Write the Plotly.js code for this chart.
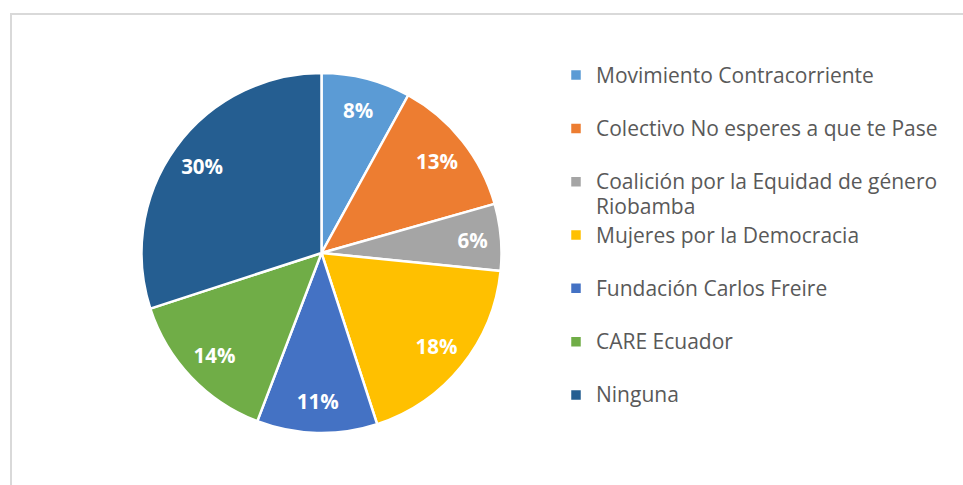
<!DOCTYPE html>
<html>
<head>
<meta charset="utf-8">
<script src="https://cdn.plot.ly/plotly-3.0.1.min.js"></script>
<style>
  html, body { margin: 0; padding: 0; background: #ffffff; }
  #chart { width: 963px; height: 485px; }
</style>
</head>
<body>
<div id="chart"></div>
<script>
// Data (percent shares)
const categories = [
  "Movimiento Contracorriente",
  "Colectivo No esperes a que te Pase",
  "Coalición por la Equidad de género Riobamba",
  "Mujeres por la Democracia",
  "Fundación Carlos Freire",
  "CARE Ecuador",
  "Ninguna"
];
const legendLabels = [
  "Movimiento Contracorriente",
  "Colectivo No esperes a que te Pase",
  "Coalición por la Equidad de género<br>Riobamba",
  "Mujeres por la Democracia",
  "Fundación Carlos Freire",
  "CARE Ecuador",
  "Ninguna"
];
const shares = [8.0, 12.6, 6.0, 18.4, 10.8, 14.2, 30.0];
const colors = ["#5B9BD5", "#ED7D31", "#A5A5A5", "#FFC000", "#4472C4", "#70AD47", "#255E91"];

const W = 963, H = 485;
const px = x => x / W;
const py = y => 1 - y / H;

// legend text: two lines per entry so all entries get equal spacing
const legendText = legendLabels.map(l => {
  const lines = l.split("<br>");
  const inner = lines.map(s => '<span style="font-size:21px">' + s + '</span>').join("<br>");
  return lines.length > 1 ? inner : inner + "<br>\u00a0";
});

const pieDomain = { x: [px(141.5), px(501.5)], y: [py(433), py(73)] };

// coloured slices + legend
const slices = {
  type: "pie",
  labels: legendText,
  values: shares,
  sort: false,
  direction: "clockwise",
  rotation: 0,
  marker: { colors: colors, line: { color: "#ffffff", width: 2.5 } },
  textinfo: "none",
  hoverinfo: "label+percent",
  domain: pieDomain
};

// transparent ring carrying the percentage labels near the rim
const labelRing = {
  type: "pie",
  labels: categories,
  values: shares,
  sort: false,
  direction: "clockwise",
  rotation: 0,
  hole: 0.64,
  showlegend: false,
  marker: { colors: categories.map(() => "rgba(0,0,0,0)"), line: { width: 0 } },
  textposition: "inside",
  insidetextorientation: "horizontal",
  texttemplate: "%{percent:.0%}",
  textfont: { family: "Open Sans", size: 20.5, color: "#ffffff", weight: "bold" },
  hoverinfo: "skip",
  domain: pieDomain
};

const layout = {
  width: W, height: H,
  margin: { l: 0, r: 0, t: 0, b: 0 },
  paper_bgcolor: "#ffffff",
  plot_bgcolor: "#ffffff",
  font: { family: "Open Sans", color: "#595959" },
  showlegend: true,
  legend: {
    x: px(556), xanchor: "left",
    y: py(56), yanchor: "top",
    valign: "top",
    font: { family: "Open Sans", size: 19.35, color: "#595959" },
    bgcolor: "rgba(0,0,0,0)",
    borderwidth: 0,
    itemclick: false
  },
  shapes: [
    { type: "line", xref: "paper", yref: "paper", x0: px(11), x1: 1.01, y0: py(14), y1: py(14),
      line: { color: "#d9d9d9", width: 2 } },
    { type: "line", xref: "paper", yref: "paper", x0: px(11), x1: px(11), y0: py(13), y1: -0.01,
      line: { color: "#d9d9d9", width: 2 } }
  ]
};

Plotly.newPlot("chart", [slices, labelRing], layout, { displayModeBar: false, staticPlot: true });
</script>
</body>
</html>
